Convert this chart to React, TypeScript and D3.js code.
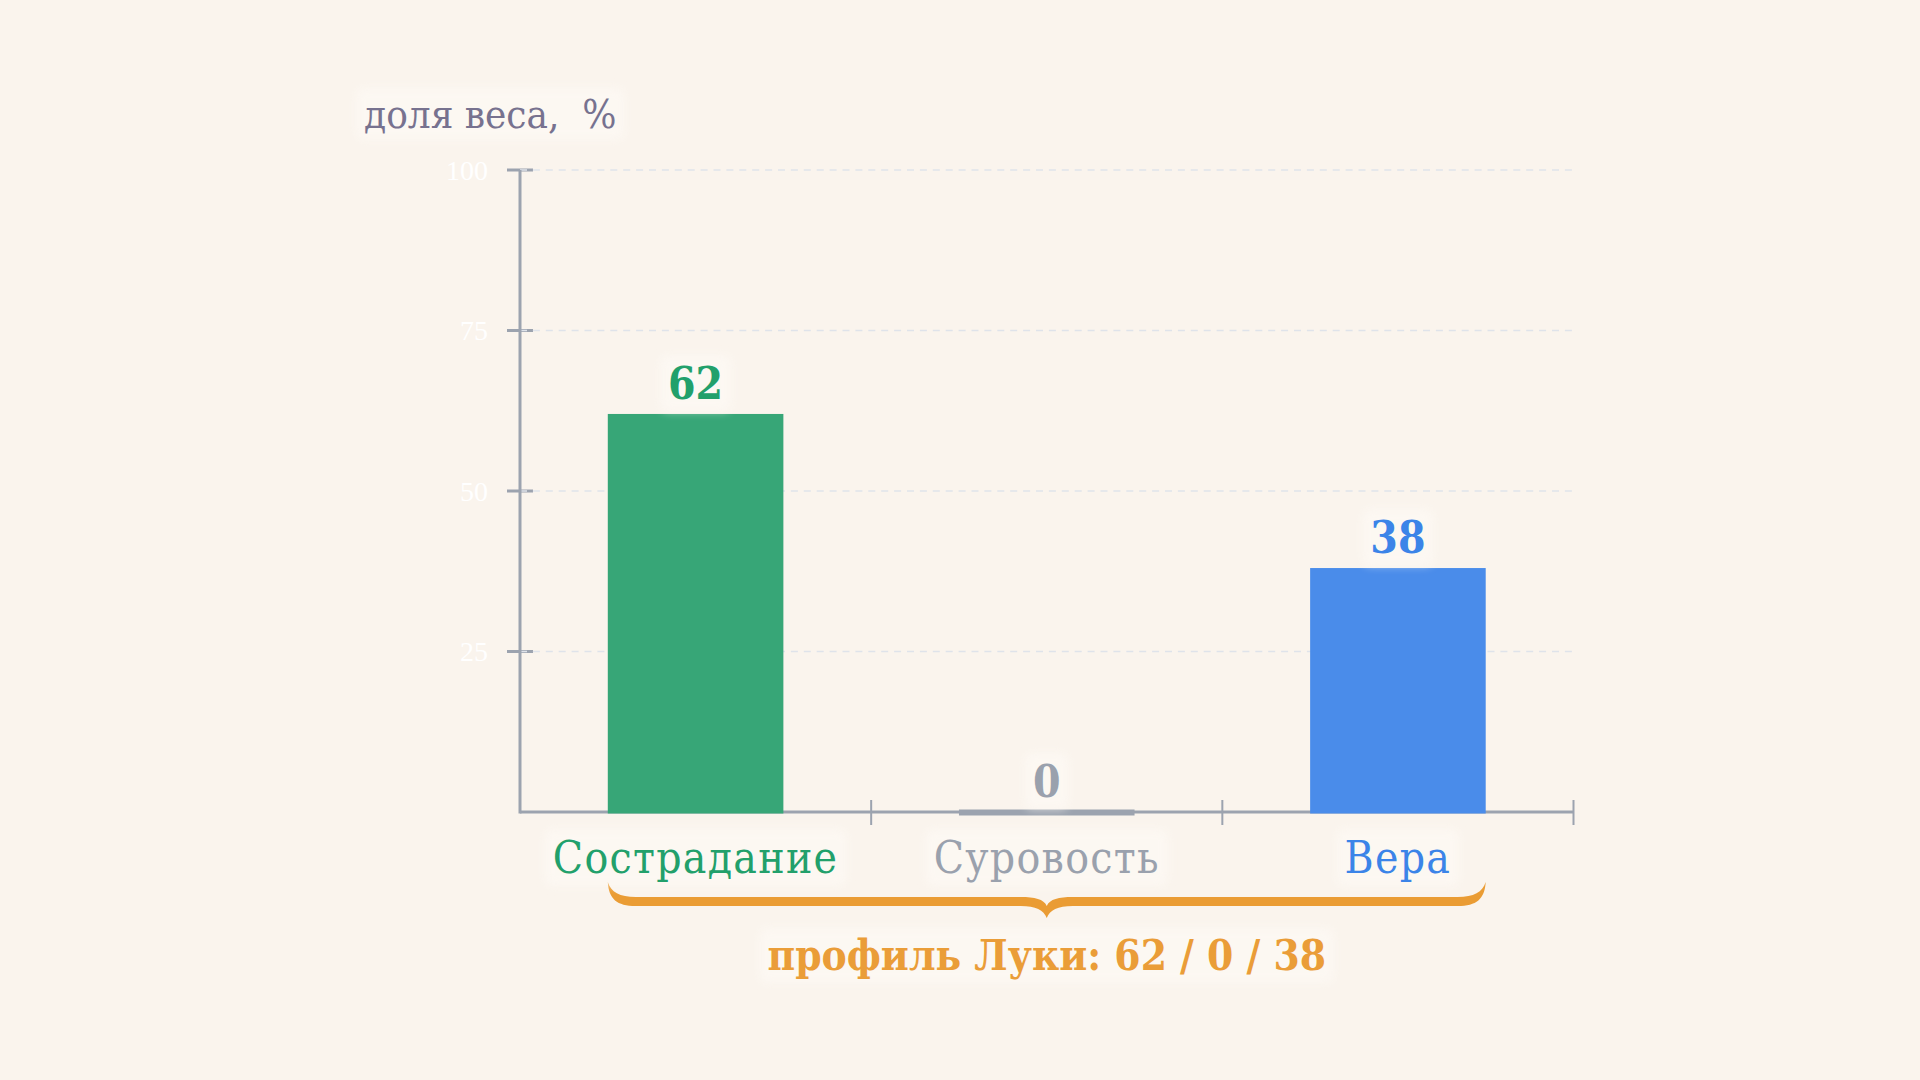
import React, { useEffect, useRef } from 'react';
import * as d3 from 'd3';

const categories = ['Сострадание', 'Суровость', 'Вера'];
const values = [62, 0, 38];
const barColors = ['#37a677', '#9ca3af', '#4a8cea'];
const labelColors = ['#22a06b', '#9aa1ad', '#3b84e8'];
const yTicks = [25, 50, 75, 100];
const yTitle = 'доля веса,  %';
const summaryLabel = 'профиль Луки';

const W = 1920;
const H = 1080;
const SERIF = '"DejaVu Serif Condensed", "DejaVu Serif", serif';

const App: React.FC = () => {
  const svgRef = useRef<SVGSVGElement>(null);

  useEffect(() => {
    document.body.style.margin = '0';
    if (!svgRef.current) return;
    const svg = d3.select(svgRef.current);
    svg.selectAll('*').remove();

    const left = 520, right = 1573.5, top = 170, bottom = 812;

    const x = d3.scaleBand<string>().domain(categories).range([left, right]).paddingInner(0.5).paddingOuter(0.25);
    const y = d3.scaleLinear().domain([0, 100]).range([bottom, top]);

    const defs = svg.append('defs');
    defs.append('filter').attr('id', 'halo-blur')
      .attr('x', '-20%').attr('y', '-40%').attr('width', '140%').attr('height', '180%')
      .append('feGaussianBlur').attr('stdDeviation', 4);

    svg.append('rect').attr('width', W).attr('height', H).attr('fill', '#faf4ed');

    // y ticks
    svg.append('g').selectAll('line').data(yTicks).enter().append('line')
      .attr('x1', left - 13).attr('x2', left + 13)
      .attr('y1', d => y(d)).attr('y2', d => y(d))
      .attr('stroke', '#9ca3af').attr('stroke-width', 3);

    // grid
    svg.append('g').selectAll('line').data(yTicks).enter().append('line')
      .attr('x1', left).attr('x2', right)
      .attr('y1', d => y(d)).attr('y2', d => y(d))
      .attr('stroke', '#dfe3ea').attr('stroke-width', 1.6)
      .attr('stroke-dasharray', '7 5.9');

    // axes
    svg.append('line').attr('x1', left).attr('x2', left).attr('y1', top).attr('y2', bottom + 1.5)
      .attr('stroke', '#9ca3af').attr('stroke-width', 3);
    svg.append('line').attr('x1', left).attr('x2', right).attr('y1', bottom).attr('y2', bottom)
      .attr('stroke', '#9ca3af').attr('stroke-width', 3);

    const bandEdges = categories.map(c => (x(c) as number) + x.bandwidth() + x.step() * 0.25);
    svg.append('g').selectAll('line').data(bandEdges).enter().append('line')
      .attr('x1', d => d).attr('x2', d => d)
      .attr('y1', bottom - 12).attr('y2', bottom + 13)
      .attr('stroke', '#9ca3af').attr('stroke-width', 2);

    // y tick labels
    svg.append('g').selectAll('text').data(yTicks).enter().append('text')
      .attr('x', 488).attr('y', d => y(d)).attr('dy', '0.35em')
      .attr('text-anchor', 'end')
      .attr('fill', '#ffffff')
      .style('font-family', '"Liberation Serif", serif')
      .style('font-size', '28px')
      .text(d => d);

    // bars
    svg.append('g').selectAll('rect').data(values).enter().append('rect')
      .attr('x', (_, i) => x(categories[i]) as number)
      .attr('width', x.bandwidth())
      .attr('y', d => (d === 0 ? bottom - 2.5 : y(d)))
      .attr('height', d => (d === 0 ? 6 : bottom - y(d) + 1.5))
      .attr('fill', (_, i) => barColors[i]);

    // brace under all categories
    const x0 = x(categories[0]) as number;
    const x1 = (x(categories[categories.length - 1]) as number) + x.bandwidth();
    const xm = (x0 + x1) / 2;
    const yEnd = 882, yT = 897, yB = 906, tip = 918;
    const brace = [
      `M${x0},${yEnd}`,
      `C${x0 + 1},${yB - 7} ${x0 + 9},${yB} ${x0 + 28},${yB}`,
      `L${xm - 26},${yB}`,
      `C${xm - 11},${yB} ${xm - 3},${yB + 4} ${xm},${tip}`,
      `C${xm + 3},${yB + 4} ${xm + 11},${yB} ${xm + 26},${yB}`,
      `L${x1 - 28},${yB}`,
      `C${x1 - 9},${yB} ${x1 - 1},${yB - 7} ${x1},${yEnd}`,
      `C${x1 - 3},${yT - 5} ${x1 - 12},${yT} ${x1 - 28},${yT}`,
      `L${xm + 26},${yT}`,
      `C${xm + 12},${yT} ${xm + 3},${yT + 2} ${xm},${yT + 9}`,
      `C${xm - 3},${yT + 2} ${xm - 12},${yT} ${xm - 26},${yT}`,
      `L${x0 + 28},${yT}`,
      `C${x0 + 12},${yT} ${x0 + 3},${yT - 5} ${x0},${yEnd}`,
      'Z',
    ].join(' ');
    svg.append('path').attr('d', brace).attr('fill', '#ea9c34');

    const halos = svg.append('g');
    const texts = svg.append('g');

    texts.append('text')
      .attr('x', 364).attr('y', 128)
      .attr('fill', '#77728f')
      .style('font-family', SERIF).style('font-size', '40px')
      .style('white-space', 'pre')
      .text(yTitle);

    texts.selectAll('.value').data(values).enter().append('text')
      .attr('class', 'value')
      .attr('x', (_, i) => (x(categories[i]) as number) + x.bandwidth() / 2)
      .attr('y', d => y(d) - 15)
      .attr('text-anchor', 'middle')
      .attr('fill', (_, i) => labelColors[i])
      .style('font-family', SERIF).style('font-size', '44px').style('font-weight', 'bold')
      .text(d => d);

    texts.selectAll('.cat').data(categories).enter().append('text')
      .attr('class', 'cat')
      .attr('x', d => (x(d) as number) + x.bandwidth() / 2)
      .attr('y', 873)
      .attr('text-anchor', 'middle')
      .attr('fill', (_, i) => labelColors[i])
      .style('font-family', SERIF).style('font-size', '44px')
      .style('letter-spacing', '1.3px')
      .text(d => d);

    texts.append('text')
      .attr('x', xm).attr('y', 970)
      .attr('text-anchor', 'middle')
      .attr('fill', '#ea9d38')
      .style('font-family', SERIF).style('font-size', '42px').style('font-weight', 'bold')
      .text(`${summaryLabel}: ${values.join(' / ')}`);

    texts.selectAll<SVGTextElement, unknown>('text').each(function () {
      const b = this.getBBox();
      halos.append('rect')
        .attr('x', b.x - 8).attr('y', b.y - 3)
        .attr('width', b.width + 16).attr('height', b.height + 6)
        .attr('rx', 8)
        .attr('fill', '#fffcf8').attr('opacity', 0.5)
        .attr('filter', 'url(#halo-blur)');
    });
  }, []);

  return <svg ref={svgRef} width={W} height={H} style={{ display: 'block' }} />;
};

export default App;
